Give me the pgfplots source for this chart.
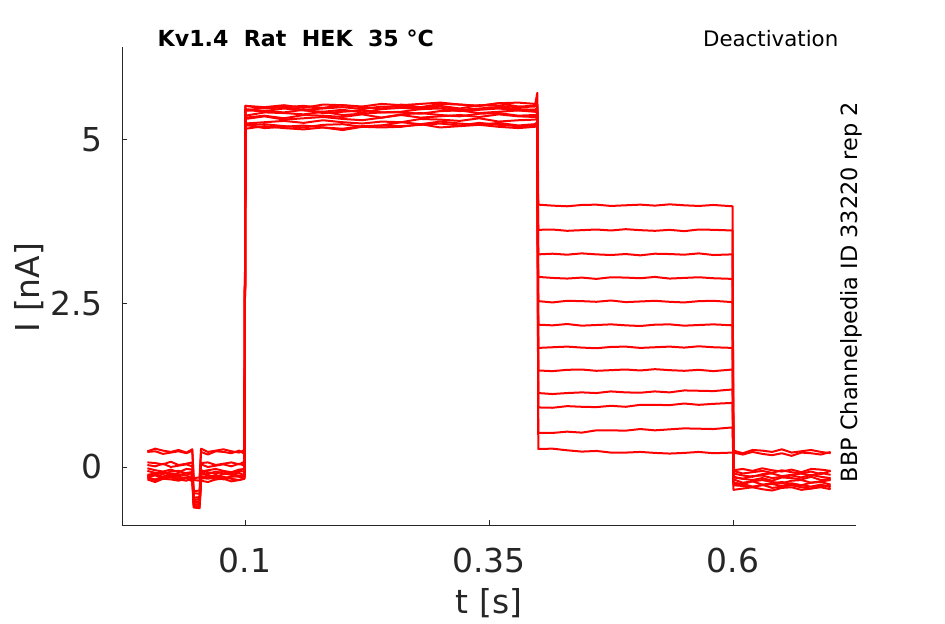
\documentclass[border=0pt]{standalone}
\usepackage{fontspec}
\setmainfont{DejaVu Sans}
\usepackage{pgfplots}
\usepackage{pgfplotstable}
\pgfplotsset{compat=1.18}
\definecolor{axgray}{RGB}{38,38,38}
\pgfplotstableread{
t s1 s2 s3 s4 s5 s6 s7 s8 s9 s10 s11 s12
0.000 0.24 -0.14 0.07 -0.15 -0.06 0.23 -0.15 -0.02 -0.19 0.03 -0.12 -0.17
0.008 0.28 -0.11 0.06 -0.20 -0.09 0.24 -0.13 -0.05 -0.23 0.01 -0.10 -0.19
0.016 0.25 -0.15 0.04 -0.18 -0.11 0.20 -0.16 -0.07 -0.18 0.05 -0.08 -0.15
0.024 0.23 -0.10 0.08 -0.16 -0.07 0.22 -0.12 -0.04 -0.19 0.00 -0.11 -0.14
0.032 0.26 -0.11 0.03 -0.19 -0.06 0.24 -0.15 -0.08 -0.21 0.02 -0.13 -0.18
0.040 0.22 -0.13 0.05 -0.21 -0.10 0.21 -0.17 -0.03 -0.17 0.04 -0.09 -0.16
0.046 0.27 -0.09 0.07 -0.17 -0.08 0.25 -0.14 -0.04 -0.22 0.01 -0.08 -0.14
0.0475 -0.17 -0.54 -0.37 -0.60 -0.50 -0.20 -0.57 -0.47 -0.62 -0.40 -0.52 -0.58
0.0535 -0.16 -0.55 -0.36 -0.61 -0.49 -0.21 -0.58 -0.46 -0.63 -0.41 -0.53 -0.57
0.055 0.28 -0.10 0.06 -0.18 -0.05 0.23 -0.14 -0.07 -0.21 0.04 -0.08 -0.16
0.062 0.23 -0.13 0.07 -0.16 -0.08 0.19 -0.16 -0.05 -0.23 0.00 -0.11 -0.18
0.070 0.25 -0.15 0.03 -0.19 -0.10 0.24 -0.12 -0.03 -0.19 0.02 -0.07 -0.15
0.078 0.27 -0.11 0.05 -0.15 -0.07 0.23 -0.17 -0.06 -0.18 0.04 -0.10 -0.19
0.086 0.24 -0.10 0.07 -0.18 -0.11 0.21 -0.15 -0.08 -0.22 0.01 -0.12 -0.14
0.094 0.22 -0.14 0.04 -0.20 -0.06 0.25 -0.13 -0.04 -0.20 0.05 -0.09 -0.15
0.0995 0.26 -0.12 0.08 -0.17 -0.07 0.20 -0.16 -0.03 -0.18 0.02 -0.13 -0.17
0.1005 5.52 5.47 5.52 5.37 5.32 5.22 5.45 5.25 5.17 5.34 5.45 5.23
0.120 5.48 5.44 5.50 5.42 5.36 5.24 5.49 5.27 5.21 5.37 5.44 5.18
0.140 5.50 5.48 5.53 5.41 5.31 5.21 5.50 5.29 5.18 5.33 5.42 5.20
0.160 5.52 5.45 5.49 5.39 5.33 5.19 5.46 5.26 5.16 5.38 5.46 5.22
0.180 5.49 5.43 5.54 5.43 5.35 5.23 5.48 5.30 5.19 5.37 5.41 5.19
0.200 5.53 5.46 5.53 5.38 5.32 5.24 5.50 5.27 5.15 5.35 5.43 5.17
0.220 5.50 5.42 5.51 5.40 5.30 5.20 5.47 5.25 5.20 5.39 5.45 5.21
0.240 5.48 5.47 5.55 5.42 5.34 5.22 5.51 5.28 5.19 5.34 5.42 5.22
0.260 5.54 5.49 5.53 5.42 5.38 5.27 5.51 5.27 5.20 5.39 5.43 5.21
0.280 5.50 5.47 5.55 5.40 5.34 5.24 5.49 5.32 5.24 5.41 5.47 5.23
0.300 5.55 5.51 5.57 5.44 5.36 5.28 5.52 5.31 5.19 5.38 5.48 5.25
0.320 5.54 5.46 5.54 5.45 5.38 5.25 5.48 5.29 5.21 5.36 5.44 5.22
0.340 5.52 5.48 5.52 5.41 5.35 5.23 5.53 5.33 5.23 5.40 5.46 5.26
0.360 5.56 5.50 5.56 5.43 5.39 5.26 5.52 5.28 5.20 5.41 5.48 5.23
0.380 5.51 5.47 5.57 5.45 5.36 5.22 5.50 5.30 5.18 5.37 5.45 5.21
0.397 5.52 5.46 5.55 5.43 5.35 5.24 5.51 5.31 5.20 5.38 5.46 5.22
0.3995 5.72 5.45 5.53 5.42 5.34 5.27 5.54 5.32 5.22 5.39 5.49 5.24
0.4005 4.01 3.625 3.25 2.905 2.535 2.175 1.82 1.475 1.13 0.91 0.52 0.275
0.415 3.995 3.63 3.26 2.89 2.515 2.165 1.83 1.465 1.115 0.905 0.52 0.28
0.430 3.985 3.61 3.245 2.88 2.54 2.185 1.84 1.485 1.13 0.93 0.54 0.255
0.445 4.005 3.62 3.265 2.895 2.535 2.16 1.825 1.49 1.14 0.92 0.525 0.235
0.460 4.01 3.63 3.25 2.875 2.525 2.17 1.815 1.47 1.13 0.915 0.56 0.245
0.475 3.99 3.615 3.24 2.90 2.545 2.18 1.835 1.48 1.155 0.935 0.56 0.22
0.490 4.00 3.635 3.255 2.895 2.52 2.165 1.84 1.49 1.14 0.92 0.555 0.22
0.505 4.01 3.62 3.235 2.885 2.53 2.155 1.82 1.475 1.135 0.95 0.58 0.23
0.520 3.995 3.61 3.26 2.905 2.54 2.175 1.83 1.495 1.155 0.95 0.56 0.215
0.535 4.015 3.625 3.255 2.88 2.525 2.18 1.84 1.48 1.14 0.945 0.575 0.205
0.550 4.00 3.605 3.245 2.89 2.515 2.16 1.825 1.47 1.17 0.97 0.59 0.215
0.565 3.99 3.63 3.265 2.90 2.535 2.17 1.845 1.485 1.165 0.95 0.585 0.23
0.580 4.005 3.625 3.24 2.885 2.54 2.18 1.83 1.465 1.16 0.965 0.58 0.21
0.5995 3.985 3.615 3.25 2.875 2.52 2.165 1.82 1.49 1.185 0.98 0.605 0.22
0.6005 -0.28 -0.19 -0.10 -0.27 -0.05 -0.15 0.25 -0.24 -0.35 -0.16 -0.06 0.22
0.610 -0.29 -0.24 -0.13 -0.26 -0.03 -0.18 0.21 -0.26 -0.33 -0.18 -0.10 0.19
0.620 -0.31 -0.22 -0.15 -0.30 -0.06 -0.20 0.26 -0.22 -0.31 -0.14 -0.08 0.23
0.630 -0.27 -0.20 -0.11 -0.28 -0.02 -0.17 0.25 -0.27 -0.34 -0.13 -0.06 0.20
0.640 -0.32 -0.23 -0.10 -0.26 -0.05 -0.21 0.23 -0.25 -0.36 -0.17 -0.09 0.18
0.650 -0.30 -0.25 -0.14 -0.29 -0.07 -0.16 0.27 -0.23 -0.32 -0.15 -0.05 0.21
0.660 -0.28 -0.21 -0.12 -0.25 -0.04 -0.17 0.22 -0.26 -0.31 -0.13 -0.08 0.17
0.670 -0.31 -0.20 -0.10 -0.28 -0.08 -0.19 0.24 -0.28 -0.35 -0.16 -0.10 0.22
0.680 -0.33 -0.24 -0.13 -0.30 -0.03 -0.15 0.26 -0.24 -0.33 -0.12 -0.07 0.21
0.690 -0.29 -0.22 -0.09 -0.27 -0.04 -0.20 0.23 -0.23 -0.31 -0.15 -0.11 0.19
0.700 -0.28 -0.20 -0.12 -0.31 -0.06 -0.18 0.21 -0.27 -0.34 -0.17 -0.06 0.23
}\traces
\begin{document}
\begin{tikzpicture}
\begin{axis}[
  at={(0,0)}, anchor=south west,
  scale only axis, width=550.5pt, height=358.5pt,
  xmin=-0.026, xmax=0.726, ymin=-0.887, ymax=6.42,
  axis x line=bottom, axis y line=left,
  axis line style={-, axgray, line width=0.6pt},
  tick align=inside, major tick length=4pt,
  tick style={axgray, line width=0.6pt},
  xtick={0.1,0.35,0.6}, xticklabels={0.1,0.35,0.6},
  ytick={0,2.5,5}, yticklabels={0,2.5,5},
  xticklabel style={font=\fontsize{24.7}{29}\selectfont, text=axgray, inner sep=0pt, yshift=-17.25pt},
  yticklabel style={font=\fontsize{24.7}{29}\selectfont, text=axgray, inner sep=0pt, xshift=-14.25pt},
  xlabel={t [s]}, ylabel={I [nA]},
  xlabel style={at={([yshift=-58.5pt]axis description cs:0.5,0)}, anchor=center, font=\fontsize{24.7}{29}\selectfont, text=axgray},
  ylabel style={at={([xshift=-70pt]axis description cs:0,0.497)}, anchor=center, font=\fontsize{24.7}{29}\selectfont, text=axgray},
]
\pgfplotsinvokeforeach{1,...,12}{
  \addplot[red, line width=1.5pt, line join=round] table[x=t, y=s#1]{\traces};
}
\end{axis}
\node[anchor=base west, font=\bfseries\fontsize{16.6}{19}\selectfont] at (23.25pt,358.5pt) {Kv1.4\ \ Rat\ \ HEK\ \ 35 °C};
\node[anchor=base east, font=\fontsize{16}{19}\selectfont] at (540.75pt,358.5pt) {Deactivation};
\node[anchor=base, rotate=90, font=\fontsize{16.8}{19}\selectfont] at (551.25pt,174.75pt) {BBP Channelpedia ID 33220 rep 2};
\pgfresetboundingbox
\useasboundingbox (-91.5pt,-74.25pt) rectangle (617.25pt,393.75pt);
\end{tikzpicture}
\end{document}
